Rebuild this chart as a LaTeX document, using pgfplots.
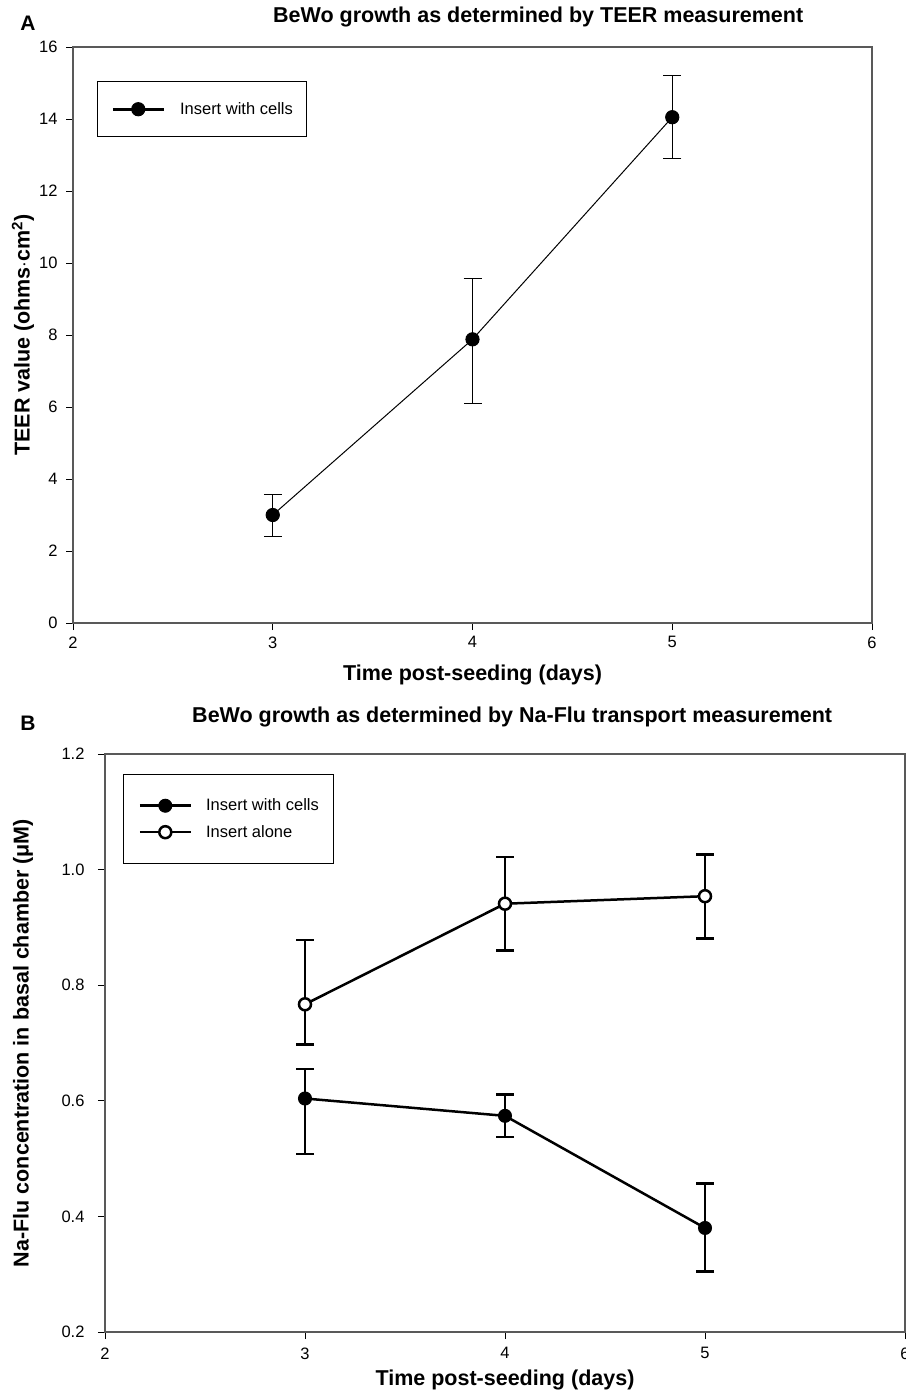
\documentclass[border=0pt]{standalone}
\usepackage{pgfplots}
\pgfplotsset{compat=1.18}
\usepackage{pgfplotstable}
\usepackage{fontspec}
\setmainfont{Liberation Sans}

\pgfplotstableread{
x y ep em
3 3.00 0.57 0.60
4 7.88 1.69 1.78
5 14.05 1.16 1.15
}\teer

\pgfplotstableread{
x y ep em
3 0.604 0.051 0.096
4 0.574 0.037 0.037
5 0.380 0.077 0.075
}\cells

\pgfplotstableread{
x y ep em
3 0.767 0.111 0.070
4 0.941 0.081 0.081
5 0.954 0.072 0.073
}\alone

\pgfplotsset{
 common/.style={
  scale only axis,
  axis line style={black!65, line width=1.3bp},
  tick style={black, line width=1bp},
  major tick length=7bp,
  tick align=outside,
  tick pos=left,
  xmin=2, xmax=6, xtick={2,3,4,5,6},
  /pgf/number format/assume math mode=true,
  tick label style={font=\fontsize{16.5bp}{19bp}\selectfont},
  label style={font=\fontsize{21.5bp}{25bp}\selectfont\bfseries},
  title style={font=\fontsize{21.5bp}{25bp}\selectfont\bfseries, anchor=west, inner xsep=0pt},
  legend cell align=left,
  legend image code/.code={
    \draw[##1, line width=2.6bp] (0bp,0bp) -- (51bp,0bp);
    \draw[##1, line width=2.6bp, mark repeat=2, mark phase=2, draw=none] plot coordinates {(0bp,0bp) (25.5bp,0bp) (51bp,0bp)};
  },
 }
}

\begin{document}
\begin{tikzpicture}
\useasboundingbox (0,0) rectangle (906bp,-1393bp);

\node[font=\fontsize{21bp}{24bp}\selectfont\bfseries] at (28bp,-23bp) {A};
\node[font=\fontsize{21bp}{24bp}\selectfont\bfseries] at (28bp,-723bp) {B};

% ---------- Panel A ----------
\begin{axis}[common,
  at={(73bp,-623bp)}, anchor=south west,
  width=799bp, height=576bp,
  ymin=0, ymax=16, ytick={0,2,...,16},
  xticklabel style={yshift=-3bp},
  yticklabel style={xshift=-5bp},
  title={BeWo growth as determined by TEER measurement},
  title style={at={(axis description cs:0.2503,1.0417)}},
  xlabel={Time post-seeding (days)},
  xlabel style={at={(axis description cs:0.5,-0.0903)}, anchor=center},
  ylabel={TEER value (ohms$\cdot$cm\textsuperscript{2})},
  ylabel style={at={(axis description cs:-0.0626,0.5)}, anchor=center, rotate=0},
  legend style={at={(axis description cs:0.030,0.941)}, anchor=north west,
    draw=black, line width=1bp, inner xsep=14bp, inner ysep=21bp,
    nodes={inner sep=0pt},
    /tikz/every odd column/.append style={column sep=15bp},
    font=\fontsize{16.5bp}{19bp}\selectfont},
]
\addplot[black, line width=1bp, mark=*, mark size=6.6bp, mark options={fill=black, line width=1bp},
  error bars/.cd, y dir=both, y explicit,
  error bar style={line width=1bp, black},
  error mark options={rotate=90, mark size=9bp, line width=1bp, black}]
  table[x=x, y=y, y error plus=ep, y error minus=em] {\teer};
\addlegendentry{Insert with cells}
\end{axis}

% ---------- Panel B ----------
\begin{axis}[common,
  at={(105bp,-1332bp)}, anchor=south west,
  width=800bp, height=578bp,
  ymin=0.2, ymax=1.2, ytick={0.2,0.4,...,1.2},
  yticklabel style={/pgf/number format/.cd, fixed, fixed zerofill, precision=1, /tikz/.cd, xshift=-10bp},
  xticklabel style={yshift=-5bp},
  title={BeWo growth as determined by Na-Flu transport measurement},
  title style={at={(axis description cs:0.1088,1.0536)}},
  xlabel={Time post-seeding (days)},
  xlabel style={at={(axis description cs:0.5,-0.083)}, anchor=center},
  ylabel={Na-Flu concentration in basal chamber (μM)},
  ylabel style={at={(axis description cs:-0.1025,0.5)}, anchor=center, rotate=0},
  legend style={at={(axis description cs:0.0225,0.9654)}, anchor=north west,
    draw=black, line width=1bp, inner xsep=15bp, inner ysep=24.5bp,
    nodes={inner sep=0pt}, row sep=13bp,
    /tikz/every odd column/.append style={column sep=14bp},
    font=\fontsize{16.5bp}{19bp}\selectfont},
]
\addplot[black, line width=2.5bp, mark=*, mark size=6.5bp, mark options={fill=black, line width=1bp},
  error bars/.cd, y dir=both, y explicit,
  error bar style={line width=2.5bp, black},
  error mark options={rotate=90, mark size=9bp, line width=2.5bp, black}]
  table[x=x, y=y, y error plus=ep, y error minus=em] {\cells};
\addlegendentry{Insert with cells}
\addplot[black, line width=2.5bp, mark=*, mark size=6bp, mark options={fill=white, draw=black, line width=2.5bp},
  error bars/.cd, y dir=both, y explicit,
  error bar style={line width=2.5bp, black},
  error mark options={rotate=90, mark size=9bp, line width=2.5bp, black}]
  table[x=x, y=y, y error plus=ep, y error minus=em] {\alone};
\addlegendentry{Insert alone}
\end{axis}
\end{tikzpicture}
\end{document}
